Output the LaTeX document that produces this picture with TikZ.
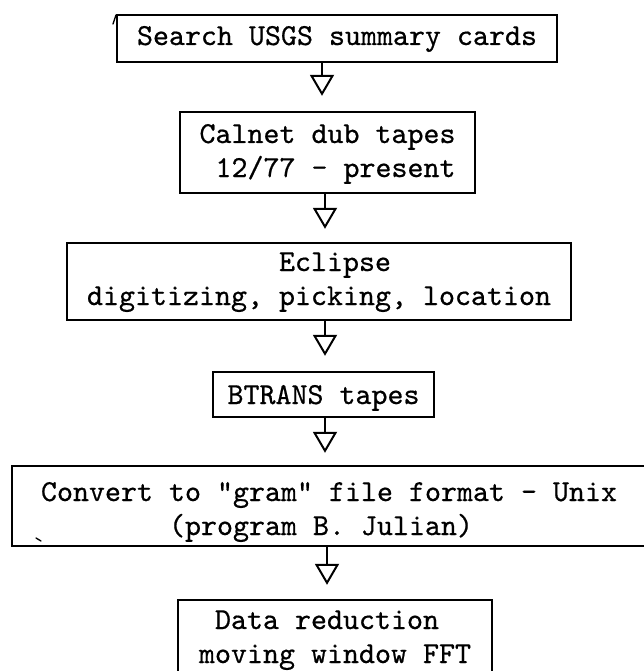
\documentclass[tikz,border=0pt]{standalone}
\usepackage{fontspec}
\usetikzlibrary{arrows.meta}
% serif typewriter face, slightly thickened like a ribbon impression
\newfontfamily\tw{lmmono10-regular}[Extension=.otf, RawFeature={embolden=0.6}]
% strut helpers: fix the height of the first line and the depth of the last
\newcommand\lnup[1]{\rule{0pt}{#1}}
\newcommand\lndn[1]{\rule[-#1]{0pt}{#1}}
% indent by whole typewriter columns (16pt each)
\newcommand\padcols[1]{\hspace*{\dimexpr 16pt*#1\relax}}
\begin{document}
\begin{tikzpicture}[x=1pt,y=-1pt,
  box/.style={draw, line width=2.4pt, inner sep=0pt, align=left,
    font=\tw\fontsize{30.476pt}{34pt}\selectfont},
  flow/.style={line width=2pt,
    -{Triangle[open, length=21pt, width=24pt, line width=2pt]}},
  nick/.style={line width=1.3pt, line cap=round}]
\useasboundingbox (0,0) rectangle (644,671);
\clip (0,0) rectangle (644,671);

% process boxes
\node[box, minimum width=440pt] (b1) at (337,38.5)
  {\lnup{30pt}Search USGS summary cards\lndn{17pt}};
\node[box, minimum width=295pt] (b2) at (327.5,152.5)
  {\lnup{31pt}Calnet dub tapes\\\padcols{1}12/77 - present\lndn{16pt}};
\node[box, minimum width=504pt] (b3) at (319,281.5)
  {\lnup{28pt}\padcols{12}Eclipse\\digitizing, picking, location\lndn{15pt}};
\node[box, minimum width=221pt] (b4) at (323.5,394.5)
  {\lnup{32pt}BTRANS tapes\lndn{13pt}};
\node[box, minimum width=634pt] (b5) at (329,506)
  {\lnup{35pt}Convert to "gram" file format - Unix\\\padcols{8}(program B. Julian)\lndn{11pt}};
\node[box, minimum width=314pt] (b6) at (335,642)
  {\lnup{29pt}\padcols{1}Data reduction\\moving window FFT\lndn{21pt}};

% stem positions of the flow arrows
\coordinate (a1) at (322,0);
\coordinate (a2) at (325,0);
\coordinate (a3) at (325,0);
\coordinate (a4) at (325,0);
\coordinate (a5) at (327,0);

\draw[flow, shorten >=15pt] (b1.south -| a1) -- (b2.north -| a1);
\draw[flow, shorten >=13pt] (b2.south -| a2) -- (b3.north -| a2);
\draw[flow, shorten >=15pt] (b3.south -| a3) -- (b4.north -| a3);
\draw[flow, shorten >=12pt] (b4.south -| a4) -- (b5.north -| a4);
\draw[flow, shorten >=14pt] (b5.south -| a5) -- (b6.north -| a5);

% small pen marks
\draw[nick] (113,24) -- (116,15);
\draw[nick] (36,538) -- (41,541);
\end{tikzpicture}
\end{document}
